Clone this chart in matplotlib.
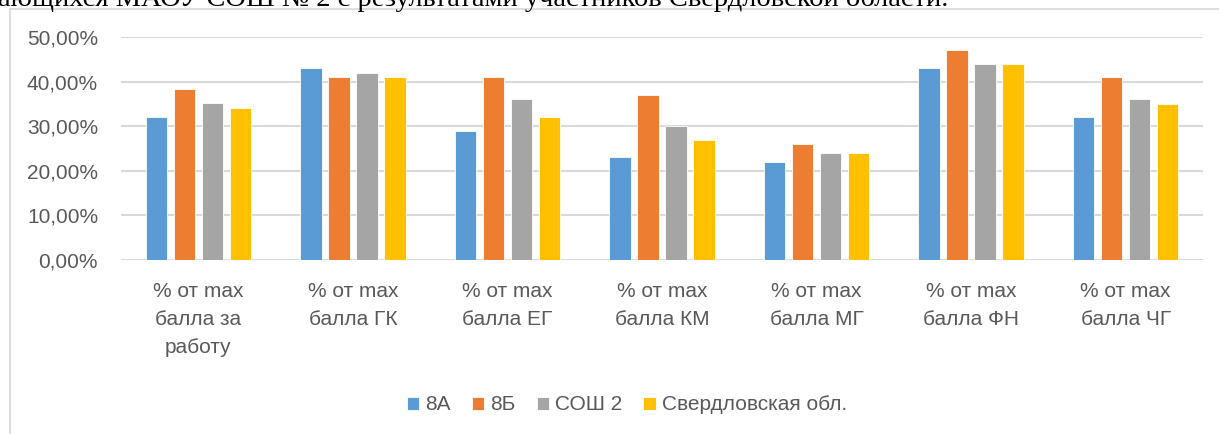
import numpy as np
import matplotlib.pyplot as plt
from matplotlib.patches import Rectangle

categories = ['% от max\nбалла за\nработу', '% от max\nбалла ГК', '% от max\nбалла ЕГ',
              '% от max\nбалла КМ', '% от max\nбалла МГ', '% от max\nбалла ФН',
              '% от max\nбалла ЧГ']
series_names = ['8А', '8Б', 'СОШ 2', 'Свердловская обл.']
v_8a = [32.0, 43.0, 29.0, 23.0, 22.0, 43.0, 32.0]
v_8b = [38.4, 41.0, 41.0, 37.0, 26.0, 47.0, 41.0]
v_sosh2 = [35.2, 42.0, 36.0, 30.0, 24.0, 44.0, 36.0]
v_obl = [34.1, 41.0, 32.0, 27.0, 24.0, 44.0, 35.0]
yticks = [0, 10, 20, 30, 40, 50]

colors = ['#5B9BD5', '#ED7D31', '#A5A5A5', '#FFC000']
W, H = 1219, 434
plt.rcParams['font.family'] = ['Liberation Sans', 'DejaVu Sans']

fig = plt.figure(figsize=(W / 100, H / 100), dpi=100)
# chart frame
fig.patches.append(Rectangle((10 / W, -0.1), 1.2, (H - 9) / H + 0.1, transform=fig.transFigure,
                             fill=False, edgecolor='#D9D9D9', lw=1.2))
# clipped document text above the chart
fig.text(-2 / W, 1 - 6 / H, 'ающихся МАОУ СОШ № 2 с результатами участников Свердловской области.',
         family='Liberation Serif', fontsize=20.5, va='baseline', ha='left', color='black')

ax = fig.add_axes([121 / W, 1 - 260 / H, (1203 - 121) / W, (260 - 37) / H])
x = np.arange(len(categories))
step, bw = 0.181, 0.139
all_vals = [v_8a, v_8b, v_sosh2, v_obl]
for i, (vals, name) in enumerate(zip(all_vals, series_names)):
    ax.bar(x + (i - 1.5) * step, vals, bw, color=colors[i], label=name,
           edgecolor='white', linewidth=0.6, zorder=3)

ax.set_xlim(-0.5, len(categories) - 0.5)
ax.set_ylim(0, 50)
ax.set_yticks(yticks)
ax.set_yticklabels([f'{t},00%' for t in yticks], fontsize=15, color='#595959')
ax.yaxis.grid(True, color='#D9D9D9', lw=1.5, zorder=0)
ax.set_xticks(x)
ax.set_xticklabels(categories, fontsize=15, color='#595959', linespacing=1.6)
ax.tick_params(length=0, axis='both')
ax.tick_params(axis='x', pad=16)
ax.tick_params(axis='y', pad=16.5)
for s in ax.spines.values():
    s.set_visible(False)

ax.legend(loc='center', bbox_to_anchor=(627 / W, 1 - 405 / H), bbox_transform=fig.transFigure,
          ncol=4, frameon=False, fontsize=15, handlelength=0.6, handleheight=0.6,
          handletextpad=0.3, columnspacing=1.0, labelcolor='#595959')

fig.savefig('out.png', dpi=100)
